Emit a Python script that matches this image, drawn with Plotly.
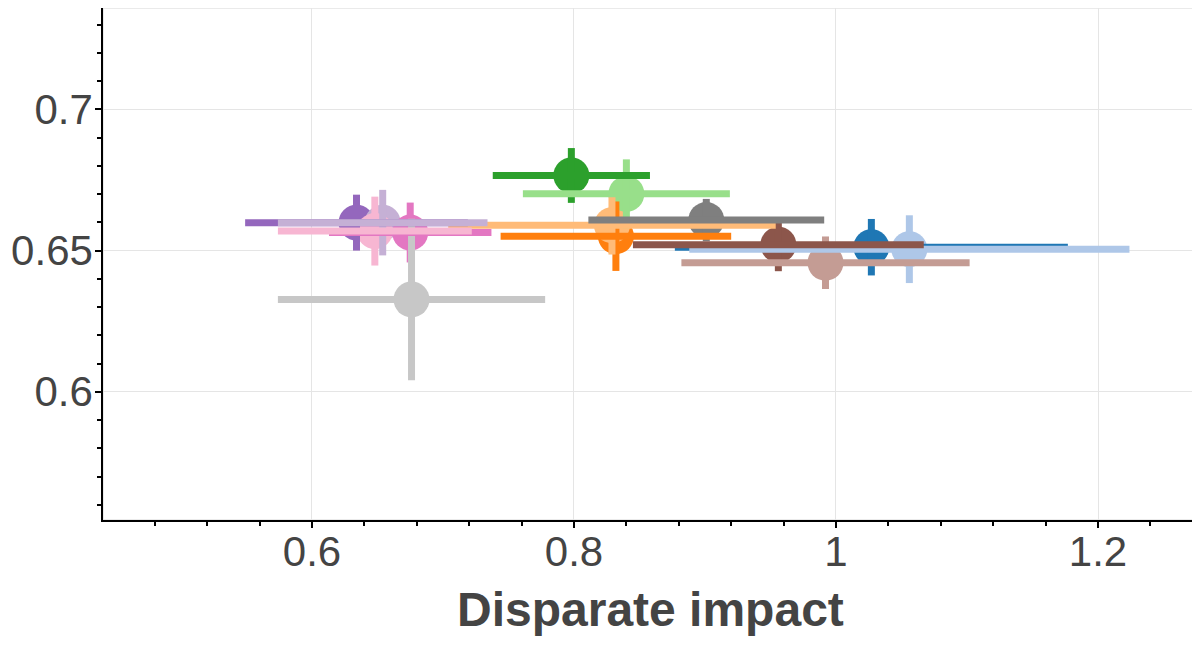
import plotly.graph_objects as go

# one point per model, tab20 colours
colors = ["#1f77b4", "#aec7e8", "#ff7f0e", "#ffbb78", "#2ca02c", "#98df8a",
          "#9467bd", "#c5b0d5", "#8c564b", "#c49c94", "#e377c2", "#f7b6d2",
          "#7f7f7f", "#c7c7c7"]
disparate_impact = [1.027, 1.056, 0.832, 0.829, 0.798, 0.840,
                    0.634, 0.654, 0.956, 0.992, 0.675, 0.648,
                    0.901, 0.676]
disparate_impact_err = [0.150, 0.168, 0.088, 0.125, 0.060, 0.079,
                        0.085, 0.080, 0.111, 0.110, 0.062, 0.074,
                        0.090, 0.102]
accuracy = [0.6512, 0.6505, 0.6551, 0.6590, 0.6766, 0.6701,
            0.6599, 0.6599, 0.6521, 0.6457, 0.6564, 0.6569,
            0.6608, 0.6327]
accuracy_err = [0.0100, 0.0120, 0.0123, 0.0104, 0.0097, 0.0122,
                0.0099, 0.0116, 0.0094, 0.0093, 0.0106, 0.0122,
                0.0075, 0.0286]

fig = go.Figure()

# circles first, then vertical bars, then horizontal bars on top
fig.add_trace(go.Scatter(
    x=disparate_impact, y=accuracy, mode="markers",
    marker=dict(size=36, color=colors, line=dict(width=0)),
    showlegend=False,
))
hidden = dict(size=1, opacity=0)
for i in range(len(colors)):
    fig.add_trace(go.Scatter(
        x=[disparate_impact[i]], y=[accuracy[i]], mode="markers", marker=hidden,
        error_y=dict(type="data", array=[accuracy_err[i]],
                     color=colors[i], thickness=7, width=0),
        showlegend=False, hoverinfo="skip",
    ))
for i in range(len(colors)):
    fig.add_trace(go.Scatter(
        x=[disparate_impact[i]], y=[accuracy[i]], mode="markers", marker=hidden,
        error_x=dict(type="data", array=[disparate_impact_err[i]],
                     color=colors[i], thickness=7, width=0),
        showlegend=False, hoverinfo="skip",
    ))

font_family = "Liberation Sans, Arial, sans-serif"
axis_font = dict(family=font_family, size=42, color="#444444")

# the page body adds 8px, margins below account for it
fig.update_layout(
    width=1200, height=650,
    template="plotly_white",
    plot_bgcolor="white",
    margin=dict(l=95, r=12, t=0, b=138),
    shapes=[dict(type="rect", xref="paper", yref="paper", x0=0, x1=1, y0=0, y1=1,
                 line=dict(color="#e3e3e3", width=1.5), layer="below")],
    annotations=[dict(text="<b>Disparate impact</b>", xref="paper", yref="paper",
                      x=0.5005, y=-0.174, xanchor="center", yanchor="middle",
                      showarrow=False,
                      font=dict(family=font_family, size=48, color="#444444"))],
)
fig.update_xaxes(
    range=[0.4405, 1.2748],
    tick0=0, dtick=0.2,
    ticks="outside", ticklen=6, tickwidth=1.5, tickcolor="black",
    minor=dict(dtick=0.04, ticks="outside", ticklen=4, tickcolor="black", showgrid=False),
    showline=True, linecolor="black", linewidth=1.5,
    showgrid=True, gridcolor="#e5e5e5", gridwidth=1,
    zeroline=False, automargin=False,
    ticklabelstandoff=-12,
    tickfont=axis_font,
)
fig.update_yaxes(
    range=[0.5546, 0.7359],
    tick0=0, dtick=0.05,
    ticks="outside", ticklen=6, tickwidth=1.5, tickcolor="black",
    minor=dict(dtick=0.01, ticks="outside", ticklen=4, tickcolor="black", showgrid=False),
    showline=True, linecolor="black", linewidth=1.5,
    showgrid=True, gridcolor="#e5e5e5", gridwidth=1,
    zeroline=False, automargin=False,
    ticklabelstandoff=-6,
    tickfont=axis_font,
)

fig.write_html("out.html")
